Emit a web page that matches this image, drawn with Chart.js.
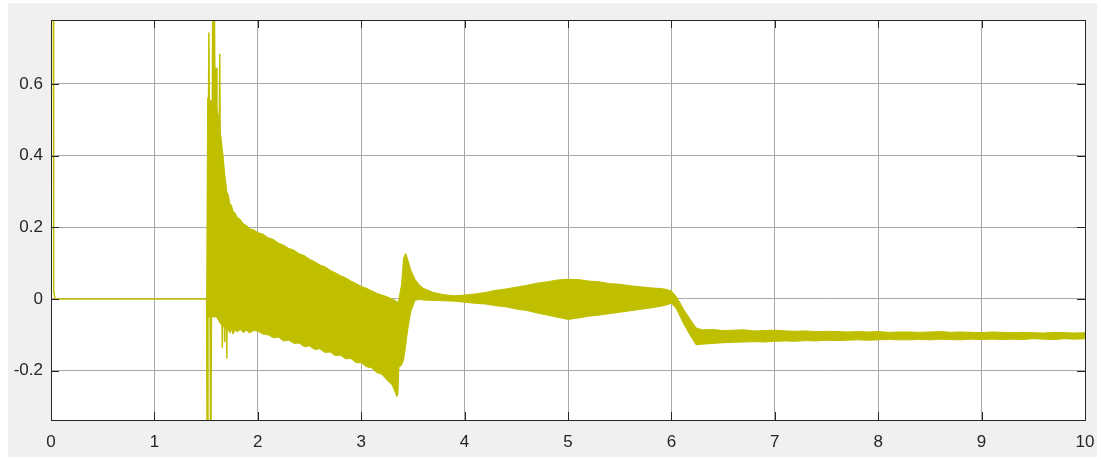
<!DOCTYPE html>
<html>
<head>
<meta charset="utf-8">
<title>Scope trace</title>
<script src="https://cdn.jsdelivr.net/npm/chart.js@4.4.1/dist/chart.umd.min.js"></script>
<style>
  html, body { margin: 0; padding: 0; background: #ffffff; }
  #wrap { width: 1101px; height: 460px; }
</style>
</head>
<body>
<div id="wrap"><canvas id="scope" width="1101" height="460"></canvas></div>
<script>
// Axis ticks
const xTicks = [0, 1, 2, 3, 4, 5, 6, 7, 8, 9, 10];
const yTicks = [-0.2, 0, 0.2, 0.4, 0.6];
const xRange = [0, 10];
const yRange = [-0.3375, 0.778];

// Start-up pulse, idle segment and the switching transient around t = 1.5 s
const traceT = [0, 0.002, 0.022, 0.026, 0.04, 1.505, 1.512, 1.518, 1.527, 1.535, 1.545, 1.553,
  1.565, 1.572, 1.58, 1.59, 1.597, 1.605, 1.615, 1.632, 1.64, 1.657, 1.665, 1.68, 1.69, 1.70,
  1.71, 1.72];
const traceV = [0, 1.2, 1.2, 0.02, 0, 0, -0.6, 0.2, 0.743, 0.3, -0.6, 0.1,
  0.85, 0.5, 0.85, 0.3, 0.645, 0.45, 0.0, 0.684, 0.2, -0.136, 0.3, -0.12, 0.27, -0.165,
  0.22, -0.09];

// Envelope of the fast oscillation, 1.5 s .. 6.24 s (upper / lower edge of the band)
const runT = [1.505, 1.515, 1.56, 1.60, 1.62, 1.64, 1.66, 1.68, 1.70, 1.715,
  1.73, 1.745, 1.76, 1.78, 1.80, 1.83, 1.86, 1.89, 1.92, 1.96,
  2.00, 2.05, 2.10, 2.15, 2.20, 2.25, 2.30, 2.35, 2.40, 2.45,
  2.50, 2.55, 2.60, 2.65, 2.70, 2.75, 2.80, 2.85, 2.90, 2.95,
  3.00, 3.05, 3.10, 3.15, 3.20, 3.25, 3.30, 3.345, 3.355, 3.365,
  3.39, 3.41, 3.43, 3.45, 3.48, 3.52, 3.56, 3.60, 3.70, 3.80,
  3.90, 4.00, 4.10, 4.20, 4.30, 4.40, 4.50, 4.60, 4.70, 4.80,
  4.90, 5.00, 5.10, 5.20, 5.30, 5.40, 5.50, 5.60, 5.70, 5.80,
  5.90, 5.95, 6.00, 6.05, 6.12, 6.19, 6.24];
const runUpper = [0, 0.56, 0.55, 0.53, 0.51, 0.46, 0.41, 0.35, 0.30, 0.29,
  0.265, 0.262, 0.245, 0.24, 0.228, 0.222, 0.21, 0.205, 0.196, 0.193,
  0.185, 0.181, 0.171, 0.166, 0.156, 0.150, 0.141, 0.136, 0.126, 0.121,
  0.111, 0.104, 0.095, 0.090, 0.080, 0.073, 0.065, 0.059, 0.050, 0.043,
  0.035, 0.030, 0.023, 0.016, 0.011, 0.006, 0.0, -0.007, -0.01, 0.0,
  0.04, 0.115, 0.127, 0.11, 0.08, 0.055, 0.04, 0.03, 0.018, 0.012,
  0.009, 0.011, 0.014, 0.018, 0.024, 0.028, 0.033, 0.038, 0.044, 0.048,
  0.053, 0.055, 0.054, 0.050, 0.048, 0.043, 0.041, 0.037, 0.034, 0.031,
  0.029, 0.027, 0.022, 0.006, -0.030, -0.060, -0.081];
const runLower = [0, -0.05, -0.05, -0.05, -0.06, -0.07, -0.075, -0.08, -0.088, -0.082,
  -0.095, -0.084, -0.098, -0.086, -0.092, -0.085, -0.094, -0.087, -0.095, -0.088,
  -0.090, -0.098, -0.100, -0.108, -0.107, -0.117, -0.115, -0.124, -0.123, -0.133,
  -0.131, -0.141, -0.139, -0.149, -0.148, -0.158, -0.157, -0.167, -0.166, -0.177,
  -0.178, -0.189, -0.192, -0.205, -0.210, -0.226, -0.240, -0.272, -0.265, -0.19,
  -0.185, -0.17, -0.13, -0.085, -0.035, -0.004, -0.001, -0.003, -0.004, -0.005,
  -0.006, -0.009, -0.012, -0.014, -0.019, -0.022, -0.028, -0.032, -0.039, -0.045,
  -0.051, -0.057, -0.053, -0.048, -0.045, -0.041, -0.037, -0.033, -0.029, -0.025,
  -0.020, -0.017, -0.012, -0.028, -0.070, -0.105, -0.128];

// Settled band, 6.3 s .. 10 s
const tailT = [6.30, 6.40, 6.50, 6.60, 6.70, 6.80, 6.90, 7.00, 7.10, 7.20,
  7.30, 7.40, 7.50, 7.60, 7.70, 7.80, 7.90, 8.00, 8.10, 8.20,
  8.30, 8.40, 8.50, 8.60, 8.70, 8.80, 8.90, 9.00, 9.10, 9.20,
  9.30, 9.40, 9.50, 9.60, 9.70, 9.80, 9.90, 10.00];
const tailUpper = [-0.086, -0.085, -0.088, -0.087, -0.086, -0.089, -0.088, -0.087, -0.089, -0.090,
  -0.089, -0.091, -0.090, -0.091, -0.092, -0.091, -0.092, -0.091, -0.093, -0.092,
  -0.092, -0.093, -0.092, -0.091, -0.093, -0.092, -0.093, -0.094, -0.092, -0.093,
  -0.094, -0.093, -0.094, -0.095, -0.093, -0.094, -0.095, -0.094];
const tailLower = [-0.126, -0.124, -0.122, -0.121, -0.120, -0.119, -0.120, -0.118, -0.117, -0.118,
  -0.116, -0.117, -0.115, -0.116, -0.115, -0.114, -0.115, -0.114, -0.113, -0.114,
  -0.114, -0.113, -0.114, -0.112, -0.113, -0.114, -0.112, -0.113, -0.112, -0.113,
  -0.112, -0.113, -0.111, -0.112, -0.113, -0.111, -0.112, -0.111];

const bandT = runT.concat(tailT);
const bandUpper = runUpper.concat(tailUpper);
const bandLower = runLower.concat(tailLower);

const TRACE = '#bfbf00';
const FONT = { family: '"Liberation Sans", Arial, sans-serif', size: 17 };

const pts = (xs, ys) => xs.map((x, i) => ({ x, y: ys[i] }));

// Figure background, white plot area, box and inward tick marks
const scopeFrame = {
  id: 'scopeFrame',
  beforeDraw(chart) {
    const { ctx, chartArea: a } = chart;
    ctx.save();
    ctx.fillStyle = '#ffffff';
    ctx.fillRect(0, 0, chart.width, chart.height);
    ctx.fillStyle = '#f0f0f0';
    ctx.fillRect(8, 3, chart.width - 12, chart.height - 6);
    ctx.fillStyle = '#ffffff';
    ctx.fillRect(a.left, a.top, a.right - a.left, a.bottom - a.top);
    ctx.restore();
  },
  afterDatasetsDraw(chart) {
    const { ctx, chartArea: a, scales } = chart;
    const len = 8;
    ctx.save();
    ctx.strokeStyle = '#262626';
    ctx.lineWidth = 1;
    ctx.beginPath();
    xTicks.forEach(v => {
      const x = Math.round(scales.x.getPixelForValue(v)) + 0.5;
      ctx.moveTo(x, a.bottom); ctx.lineTo(x, a.bottom - len);
      ctx.moveTo(x, a.top); ctx.lineTo(x, a.top + len);
    });
    yTicks.forEach(v => {
      const y = Math.round(scales.y.getPixelForValue(v)) + 0.5;
      ctx.moveTo(a.left, y); ctx.lineTo(a.left + len, y);
      ctx.moveTo(a.right, y); ctx.lineTo(a.right - len, y);
    });
    ctx.stroke();
    ctx.strokeRect(Math.round(a.left) + 0.5, Math.round(a.top) + 0.5,
      Math.round(a.right - a.left), Math.round(a.bottom - a.top));
    ctx.restore();
  }
};

new Chart(document.getElementById('scope'), {
  type: 'line',
  data: {
    datasets: [
      {
        data: pts(bandT, bandUpper),
        borderColor: TRACE, backgroundColor: TRACE, borderWidth: 1,
        pointRadius: 0, fill: '+1', tension: 0
      },
      {
        data: pts(bandT, bandLower),
        borderColor: TRACE, backgroundColor: TRACE, borderWidth: 1,
        pointRadius: 0, fill: false, tension: 0
      },
      {
        data: pts(traceT, traceV),
        borderColor: TRACE, borderWidth: 1.5,
        pointRadius: 0, fill: false, tension: 0
      }
    ]
  },
  options: {
    responsive: false,
    animation: false,
    events: [],
    layout: { padding: { left: 0, top: 20, right: 16, bottom: 0 } },
    plugins: { legend: { display: false }, tooltip: { enabled: false } },
    scales: {
      x: {
        type: 'linear', min: xRange[0], max: xRange[1],
        afterFit(s) { s.height = 40; s.paddingLeft = 0; s.paddingRight = 0; },
        afterBuildTicks(s) { s.ticks = xTicks.map(v => ({ value: v })); },
        border: { display: false },
        grid: { color: '#a8a8a8', lineWidth: 1, drawTicks: false },
        ticks: { color: '#262626', font: FONT, padding: 12, maxRotation: 0, autoSkip: false }
      },
      y: {
        type: 'linear', min: yRange[0], max: yRange[1],
        afterFit(s) { s.width = 51; s.paddingTop = 0; s.paddingBottom = 0; },
        afterBuildTicks(s) { s.ticks = yTicks.map(v => ({ value: v })); },
        border: { display: false },
        grid: { color: '#a8a8a8', lineWidth: 1, drawTicks: false },
        ticks: { color: '#262626', font: FONT, padding: 8, autoSkip: false }
      }
    }
  },
  plugins: [scopeFrame]
});
</script>
</body>
</html>
